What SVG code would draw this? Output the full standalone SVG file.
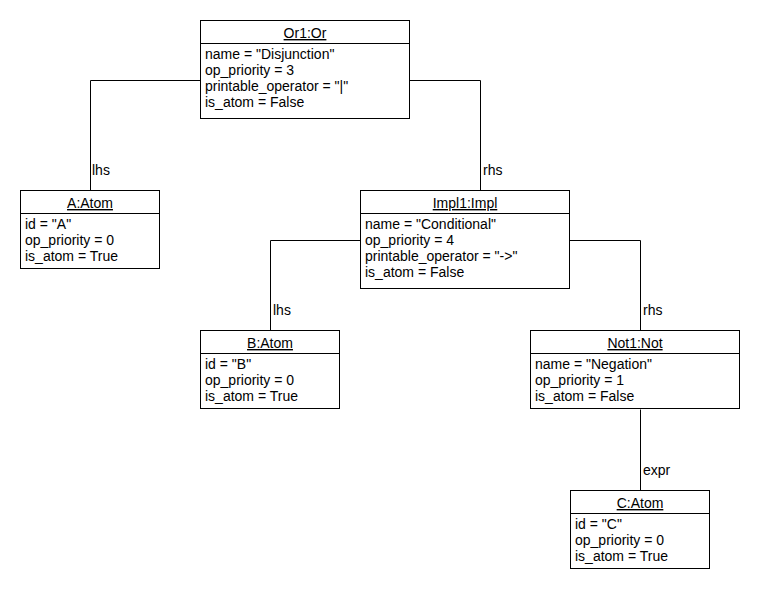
<svg xmlns="http://www.w3.org/2000/svg" width="760" height="590" viewBox="0 0 760 590">
<style>
.box{fill:#fff;stroke:#000;stroke-width:1}
.div{stroke:#000;stroke-width:1}
text{font-family:"Liberation Sans",Arial,sans-serif;font-size:14px;fill:#000}
.t{text-anchor:middle;text-decoration:underline}
.c{fill:none;stroke:#000;stroke-width:1}
</style>
<rect width="760" height="590" fill="#fff"/>
<g id="connectors">
<path class="c" d="M200.5 80.5H90.5V190"/>
<text x="92" y="175">lhs</text>
<path class="c" d="M409.5 80.5H480.5V190"/>
<text x="483" y="175">rhs</text>
<path class="c" d="M360.5 240.5H270.5V330"/>
<text x="273" y="315">lhs</text>
<path class="c" d="M569.5 240.5H640.5V330"/>
<text x="643" y="315">rhs</text>
<path class="c" d="M640.5 409.5V490"/>
<text x="643" y="475">expr</text>
</g>
<g id="Or1">
<rect class="box" x="200.5" y="20.5" width="209" height="98"/>
<line class="div" x1="200.5" y1="43.5" x2="409.5" y2="43.5"/>
<text class="t" x="305" y="38">Or1:Or</text>
<text x="205" y="59">name = "Disjunction"</text>
<text x="205" y="75">op_priority = 3</text>
<text x="205" y="91">printable_operator = "|"</text>
<text x="205" y="107">is_atom = False</text>
</g>
<g id="A">
<rect class="box" x="20.5" y="190.5" width="139" height="78"/>
<line class="div" x1="20.5" y1="213.5" x2="159.5" y2="213.5"/>
<text class="t" x="90" y="208">A:Atom</text>
<text x="25" y="229">id = "A"</text>
<text x="25" y="245">op_priority = 0</text>
<text x="25" y="261">is_atom = True</text>
</g>
<g id="Impl1">
<rect class="box" x="360.5" y="190.5" width="209" height="98"/>
<line class="div" x1="360.5" y1="213.5" x2="569.5" y2="213.5"/>
<text class="t" x="465" y="208">Impl1:Impl</text>
<text x="365" y="229">name = "Conditional"</text>
<text x="365" y="245">op_priority = 4</text>
<text x="365" y="261">printable_operator = "-&gt;"</text>
<text x="365" y="277">is_atom = False</text>
</g>
<g id="B">
<rect class="box" x="200.5" y="330.5" width="139" height="78"/>
<line class="div" x1="200.5" y1="353.5" x2="339.5" y2="353.5"/>
<text class="t" x="270" y="348">B:Atom</text>
<text x="205" y="369">id = "B"</text>
<text x="205" y="385">op_priority = 0</text>
<text x="205" y="401">is_atom = True</text>
</g>
<g id="Not1">
<rect class="box" x="530.5" y="330.5" width="209" height="78"/>
<line class="div" x1="530.5" y1="353.5" x2="739.5" y2="353.5"/>
<text class="t" x="635" y="348">Not1:Not</text>
<text x="535" y="369">name = "Negation"</text>
<text x="535" y="385">op_priority = 1</text>
<text x="535" y="401">is_atom = False</text>
</g>
<g id="C">
<rect class="box" x="570.5" y="490.5" width="139" height="78"/>
<line class="div" x1="570.5" y1="513.5" x2="709.5" y2="513.5"/>
<text class="t" x="640" y="508">C:Atom</text>
<text x="575" y="529">id = "C"</text>
<text x="575" y="545">op_priority = 0</text>
<text x="575" y="561">is_atom = True</text>
</g>
</svg>
